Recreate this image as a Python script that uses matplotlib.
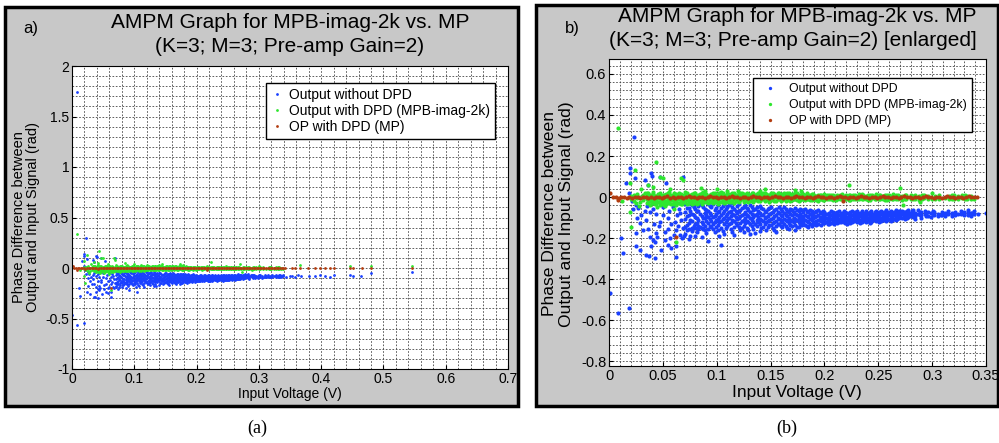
import numpy as np
import matplotlib
matplotlib.use("Agg")
import matplotlib.pyplot as plt
from matplotlib.patches import Rectangle

plt.rcParams['font.family'] = ['Liberation Sans', 'DejaVu Sans']

# ---- data (x = input voltage, y = phase difference) ----
# dense blue cloud, read column by column
blue_cols = [
    (0.071, [-0.035, -0.072, -0.108, -0.146, -0.180]),
    (0.074, [-0.052, -0.090, -0.125, -0.155, -0.205]),
    (0.077, [-0.041, -0.083, -0.117, -0.150, -0.168]),
    (0.080, [-0.060, -0.098, -0.133, -0.152, -0.188]),
    (0.083, [-0.045, -0.070, -0.112, -0.141, -0.158]),
    (0.086, [-0.038, -0.091, -0.120, -0.150, -0.196]),
    (0.089, [-0.057, -0.079, -0.104, -0.139, -0.162]),
    (0.092, [-0.033, -0.068, -0.097, -0.128, -0.155, -0.215]),
    (0.095, [-0.049, -0.086, -0.115, -0.146]),
    (0.098, [-0.062, -0.093, -0.122, -0.170]),
    (0.101, [-0.040, -0.075, -0.109, -0.137, -0.160]),
    (0.104, [-0.055, -0.088, -0.118, -0.150, -0.233]),
    (0.107, [-0.036, -0.070, -0.101, -0.131, -0.178]),
    (0.110, [-0.050, -0.084, -0.112, -0.142]),
    (0.113, [-0.028, -0.066, -0.095, -0.125, -0.158]),
    (0.116, [-0.058, -0.090, -0.119, -0.148, -0.185]),
    (0.119, [-0.044, -0.078, -0.106, -0.135]),
    (0.122, [-0.061, -0.093, -0.126, -0.162]),
    (0.125, [-0.047, -0.081, -0.110, -0.140, -0.170]),
    (0.128, [-0.055, -0.088, -0.117, -0.150]),
    (0.131, [-0.040, -0.072, -0.103, -0.132, -0.182]),
    (0.134, [-0.063, -0.096, -0.122, -0.155]),
    (0.137, [-0.050, -0.083, -0.112, -0.140]),
    (0.140, [-0.045, -0.078, -0.105, -0.130, -0.165]),
    (0.143, [-0.058, -0.090, -0.118, -0.146]),
    (0.146, [-0.066, -0.097, -0.124, -0.160]),
    (0.149, [-0.052, -0.084, -0.110, -0.138]),
    (0.152, [-0.071, -0.100, -0.128, -0.150]),
    (0.155, [-0.060, -0.088, -0.115, -0.143, -0.172]),
    (0.158, [-0.049, -0.079, -0.106, -0.133]),
    (0.161, [-0.068, -0.095, -0.121, -0.148]),
    (0.164, [-0.057, -0.086, -0.113, -0.139]),
    (0.167, [-0.074, -0.102, -0.127, -0.155]),
    (0.170, [-0.062, -0.090, -0.116, -0.142]),
    (0.173, [-0.055, -0.083, -0.108, -0.135, -0.160]),
    (0.176, [-0.070, -0.097, -0.122, -0.147]),
    (0.179, [-0.064, -0.091, -0.117, -0.138]),
    (0.182, [-0.058, -0.087, -0.111, -0.136]),
    (0.185, [-0.073, -0.099, -0.123, -0.145]),
    (0.188, [-0.066, -0.092, -0.114, -0.140]),
    (0.191, [-0.071, -0.096, -0.120, -0.133]),
    (0.194, [-0.062, -0.089, -0.110, -0.131]),
    (0.197, [-0.076, -0.100, -0.118, -0.137]),
    (0.200, [-0.075, -0.095, -0.112, -0.128]),
    (0.203, [-0.082, -0.101, -0.118, -0.132]),
    (0.206, [-0.070, -0.090, -0.108, -0.125]),
    (0.209, [-0.079, -0.098, -0.115, -0.130]),
    (0.212, [-0.073, -0.092, -0.110, -0.127]),
    (0.215, [-0.084, -0.103, -0.120]),
    (0.218, [-0.068, -0.088, -0.106, -0.124]),
    (0.221, [-0.077, -0.096, -0.113, -0.131]),
    (0.224, [-0.072, -0.091, -0.109, -0.126]),
    (0.227, [-0.080, -0.099, -0.116]),
    (0.230, [-0.070, -0.089, -0.107, -0.122]),
    (0.233, [-0.076, -0.094, -0.112, -0.128]),
    (0.236, [-0.083, -0.101, -0.118]),
    (0.239, [-0.068, -0.087, -0.105, -0.121]),
    (0.242, [-0.074, -0.093, -0.110, -0.125]),
    (0.245, [-0.081, -0.098, -0.114]),
    (0.248, [-0.066, -0.085, -0.103, -0.119]),
    (0.251, [-0.072, -0.090, -0.107, -0.122]),
    (0.254, [-0.078, -0.095, -0.112]),
    (0.257, [-0.065, -0.083, -0.100, -0.117]),
    (0.260, [-0.071, -0.088, -0.105]),
    (0.263, [-0.076, -0.093, -0.110]),
    (0.266, [-0.064, -0.081, -0.098, -0.113]),
    (0.269, [-0.070, -0.087, -0.104]),
    (0.272, [-0.066, -0.083, -0.100]),
    (0.275, [-0.074, -0.090, -0.106]),
    (0.278, [-0.063, -0.080, -0.096]),
    (0.281, [-0.070, -0.087]),
    (0.284, [-0.076, -0.093, -0.108]),
    (0.287, [-0.065, -0.082]),
    (0.290, [-0.072, -0.089, -0.101]),
    (0.293, [-0.068, -0.085]),
    (0.296, [-0.075, -0.091]),
    (0.299, [-0.080, -0.098]),
    (0.302, [-0.071, -0.087]),
    (0.305, [-0.083, -0.095]),
    (0.308, [-0.088]),
    (0.312, [-0.076, -0.092]),
    (0.315, [-0.070, -0.085]),
    (0.318, [-0.078, -0.094]),
    (0.321, [-0.073, -0.089]),
    (0.324, [-0.081]),
    (0.327, [-0.069, -0.085]),
    (0.330, [-0.075, -0.090]),
    (0.333, [-0.072, -0.087]),
    (0.336, [-0.080, -0.094]),
    (0.339, [-0.083]),
    # in-between columns
    (0.0725, [-0.055, -0.095, -0.135, -0.160]),
    (0.0755, [-0.030, -0.068, -0.112, -0.190]),
    (0.0785, [-0.050, -0.088, -0.142]),
    (0.0815, [-0.066, -0.104, -0.125, -0.170]),
    (0.0845, [-0.036, -0.081, -0.146]),
    (0.0875, [-0.048, -0.100, -0.130, -0.155]),
    (0.0905, [-0.062, -0.090, -0.118, -0.175]),
    (0.0935, [-0.044, -0.077, -0.106, -0.140]),
    (0.0965, [-0.035, -0.098, -0.132, -0.158]),
    (0.0995, [-0.054, -0.083, -0.114, -0.146]),
    (0.1025, [-0.066, -0.096, -0.124, -0.190]),
    (0.1055, [-0.042, -0.078, -0.108, -0.164]),
    (0.1085, [-0.060, -0.092, -0.122, -0.152]),
    (0.1115, [-0.038, -0.072, -0.100, -0.133]),
    (0.1145, [-0.051, -0.083, -0.111, -0.171]),
    (0.1175, [-0.066, -0.098, -0.128]),
    (0.1205, [-0.036, -0.070, -0.102, -0.144]),
    (0.1235, [-0.053, -0.087, -0.116, -0.152]),
    (0.1265, [-0.040, -0.073, -0.100, -0.129]),
    (0.1295, [-0.063, -0.095, -0.124, -0.160]),
    (0.1325, [-0.048, -0.081, -0.112, -0.142]),
    (0.1355, [-0.056, -0.090, -0.130, -0.175]),
    (0.1385, [-0.067, -0.097, -0.121]),
    (0.1415, [-0.052, -0.086, -0.113, -0.150]),
    (0.1445, [-0.072, -0.104, -0.132]),
    (0.1475, [-0.060, -0.091, -0.116, -0.145]),
    (0.1505, [-0.047, -0.078, -0.106, -0.136]),
    (0.1535, [-0.064, -0.094, -0.121, -0.162]),
    (0.1565, [-0.073, -0.102, -0.130]),
    (0.1595, [-0.058, -0.087, -0.112, -0.141]),
    (0.1625, [-0.050, -0.080, -0.105, -0.130]),
    (0.1655, [-0.066, -0.093, -0.119, -0.150]),
    (0.1685, [-0.056, -0.084, -0.110, -0.137]),
    (0.1715, [-0.071, -0.100, -0.124]),
    (0.1745, [-0.063, -0.090, -0.114, -0.144]),
    (0.1775, [-0.058, -0.085, -0.108, -0.130]),
    (0.1805, [-0.075, -0.102, -0.126]),
    (0.1835, [-0.066, -0.094, -0.118, -0.141]),
    (0.1865, [-0.061, -0.085, -0.109, -0.130]),
    (0.1895, [-0.078, -0.104, -0.125]),
    (0.1925, [-0.068, -0.093, -0.116, -0.138]),
    (0.1955, [-0.073, -0.097, -0.112]),
    (0.1985, [-0.066, -0.088, -0.106, -0.126]),
    (0.2015, [-0.085, -0.104, -0.121]),
    (0.2045, [-0.078, -0.097, -0.114, -0.130]),
    (0.2075, [-0.074, -0.093, -0.110]),
    (0.2105, [-0.086, -0.104, -0.122]),
    (0.2135, [-0.069, -0.088, -0.105, -0.120]),
    (0.2165, [-0.079, -0.098, -0.114]),
    (0.2195, [-0.074, -0.093, -0.111, -0.128]),
    (0.2225, [-0.084, -0.102, -0.118]),
    (0.2255, [-0.068, -0.087, -0.105, -0.121]),
    (0.2285, [-0.075, -0.094, -0.112]),
    (0.2315, [-0.081, -0.099, -0.117]),
    (0.2345, [-0.070, -0.088, -0.106, -0.123]),
    (0.2375, [-0.077, -0.095, -0.112]),
    (0.2405, [-0.083, -0.101, -0.117]),
    (0.2435, [-0.069, -0.087, -0.104, -0.120]),
    (0.2465, [-0.075, -0.092, -0.109]),
    (0.2495, [-0.080, -0.097, -0.114]),
    (0.2525, [-0.067, -0.085, -0.102, -0.118]),
    (0.2555, [-0.073, -0.090, -0.107]),
    (0.2585, [-0.078, -0.095, -0.112]),
    (0.2615, [-0.066, -0.083, -0.100, -0.115]),
    (0.2645, [-0.072, -0.089, -0.105]),
    (0.2675, [-0.077, -0.093, -0.108]),
    (0.2705, [-0.068, -0.085, -0.099]),
    (0.2735, [-0.075, -0.092]),
    (0.2765, [-0.069, -0.086, -0.101]),
    (0.2795, [-0.078, -0.092]),
    (0.2825, [-0.064, -0.082, -0.098]),
    (0.2885, [-0.074, -0.090]),
    (0.2945, [-0.079, -0.095]),
    (0.3005, [-0.066, -0.083]),
    (0.3095, [-0.074, -0.090]),
    (0.3185, [-0.085]),
    (0.3275, [-0.078]),
    (0.3335, [-0.065, -0.081]),
]

# scattered blue points (low-voltage spread and sparse high-voltage tail)
blue_extra = [
    (0.0075, 1.74), (0.0006, -0.47), (0.0084, -0.564), (0.0186, -0.543),
    (0.0114, -0.20), (0.013, -0.275), (0.0186, 0.018), (0.016, 0.07),
    (0.0192, 0.14), (0.0198, 0.115), (0.0229, 0.294), (0.024, 0.094),
    (0.0387, 0.115), (0.040, 0.104), (0.033, 0.083), (0.047, 0.099),
    (0.0687, 0.099), (0.053, 0.067), (0.036, 0.058), (0.0254, -0.039),
    (0.027, -0.055), (0.021, -0.02), (0.035, -0.045), (0.033, -0.068),
    (0.041, -0.06), (0.044, -0.085), (0.050, -0.09), (0.055, -0.10),
    (0.0285, -0.128), (0.0316, -0.161), (0.036, -0.155), (0.042, -0.13),
    (0.0378, -0.193), (0.041, -0.21), (0.044, -0.175), (0.046, -0.14),
    (0.0254, -0.177), (0.0248, -0.239), (0.0285, -0.259), (0.0346, -0.283),
    (0.037, -0.29), (0.0424, -0.299), (0.0486, -0.259), (0.0548, -0.234),
    (0.0619, -0.291), (0.052, -0.17), (0.055, -0.155), (0.060, -0.185),
    (0.066, -0.185), (0.045, -0.195), (0.043, -0.22), (0.039, -0.24),
    (0.047, -0.12), (0.050, -0.05), (0.053, -0.03), (0.048, -0.02),
    (0.030, -0.09), (0.034, -0.11), (0.038, -0.075), (0.022, -0.06),
    (0.026, -0.10), (0.057, -0.20), (0.058, -0.25), (0.062, -0.24),
    (0.056, -0.07), (0.059, -0.05), (0.061, -0.12), (0.063, -0.09),
    (0.064, -0.14), (0.065, -0.06), (0.067, -0.11), (0.068, -0.20),
    (0.070, -0.19), (0.052, -0.21), (0.058, -0.13), (0.062, -0.16),
    (0.066, -0.08), (0.069, -0.15),
    (0.337, -0.08), (0.339, -0.07), (0.343, -0.085), (0.350, -0.08),
    (0.354, -0.075), (0.358, -0.085), (0.363, -0.07), (0.367, -0.08),
    (0.380, -0.075), (0.390, -0.08), (0.398, -0.07), (0.406, -0.075),
    (0.414, -0.085), (0.421, -0.07), (0.446, -0.065), (0.451, -0.075),
    (0.464, -0.08), (0.480, -0.05), (0.546, -0.04),
]

green_cols = [
    (0.020, [-0.010, 0.005]), (0.023, [-0.020, 0.010]),
    (0.026, [-0.005, 0.015]), (0.029, [-0.025, 0.000]),
    (0.032, [-0.015, 0.010]),
    (0.035, [-0.030, -0.012, 0.006, 0.018]),
    (0.038, [-0.038, -0.020, -0.004, 0.012]),
    (0.041, [-0.026, -0.010, 0.015, 0.025]),
    (0.044, [-0.034, -0.016, 0.004]),
    (0.047, [-0.040, -0.022, -0.006, 0.010, 0.022]),
    (0.050, [-0.030, -0.012, 0.008]),
    (0.053, [-0.036, -0.018, 0.002, 0.016]),
    (0.056, [-0.025, -0.008, 0.012, 0.024]),
    (0.059, [-0.032, -0.014, 0.006]),
    (0.062, [-0.038, -0.020, -0.002, 0.014]),
    (0.065, [-0.028, -0.010, 0.010, 0.020]),
    (0.068, [-0.034, -0.016, 0.004]),
    (0.071, [-0.024, -0.008, 0.012, 0.026]),
    (0.074, [-0.030, -0.014, 0.006]),
    (0.077, [-0.036, -0.018, 0.002, 0.016]),
    (0.080, [-0.022, -0.006, 0.010, 0.022]),
    (0.083, [-0.028, -0.012, 0.008]),
    (0.086, [-0.032, -0.016, 0.004, 0.018]),
    (0.089, [-0.024, -0.008, 0.012, 0.028]),
    (0.092, [-0.030, -0.012, 0.006]),
    (0.095, [-0.020, -0.004, 0.014]),
    (0.098, [-0.026, -0.010, 0.008, 0.020]),
    (0.101, [-0.032, -0.014, 0.004]),
    (0.104, [-0.022, -0.006, 0.012, 0.024]),
    (0.107, [-0.028, -0.010, 0.006]),
    (0.110, [-0.018, -0.004, 0.014, 0.030]),
    (0.113, [-0.024, -0.008, 0.010]),
    (0.116, [-0.030, -0.012, 0.004, 0.018]),
    (0.119, [-0.020, -0.006, 0.012]),
    (0.122, [-0.016, 0.008, 0.020]),
    (0.125, [-0.022, -0.004, 0.014]),
    (0.128, [-0.012, 0.006, 0.022]),
    (0.131, [-0.018, -0.002, 0.012]),
    (0.134, [-0.024, 0.004, 0.018]),
    (0.137, [-0.014, 0.008, 0.016]),
    (0.140, [-0.020, -0.002, 0.012]),
    (0.143, [-0.010, 0.006, 0.020]),
    (0.146, [-0.016, 0.002, 0.014]),
    (0.149, [-0.022, -0.004, 0.010]),
    (0.152, [-0.012, 0.008, 0.018]),
    (0.155, [-0.018, 0.000, 0.012]),
    (0.158, [-0.008, 0.006, 0.022]),
    (0.161, [-0.014, 0.004, 0.016]),
    (0.164, [-0.020, -0.002, 0.010]),
    (0.167, [-0.010, 0.008, 0.018]),
    (0.170, [-0.016, 0.002, 0.014]),
    (0.173, [-0.012, 0.006, 0.020]),
    (0.176, [-0.018, -0.002, 0.012]),
    (0.179, [-0.008, 0.010, 0.016]),
    (0.182, [-0.014, 0.004, 0.012]),
    (0.185, [-0.010, 0.008]),
    (0.188, [-0.016, 0.002, 0.014]),
    (0.191, [-0.012, 0.006]),
    (0.194, [-0.018, 0.000, 0.012]),
    (0.197, [-0.008, 0.008]),
    (0.200, [-0.014, 0.004, 0.014]),
    (0.204, [-0.010, 0.010]),
    (0.208, [-0.016, 0.002, 0.012]),
    (0.212, [-0.008, 0.008]),
    (0.216, [-0.012, 0.004, 0.016]),
    (0.220, [-0.010, 0.010]),
    (0.224, [-0.014, 0.002, 0.012]),
    (0.228, [-0.008, 0.008]),
    (0.232, [-0.012, 0.006, 0.014]),
    (0.236, [-0.010, 0.010]),
    (0.240, [-0.014, 0.002, 0.012]),
    (0.244, [-0.006, 0.008]),
    (0.248, [-0.012, 0.004, 0.016]),
    (0.252, [-0.010, 0.010]),
    (0.256, [-0.014, 0.002, 0.012]),
    (0.260, [-0.008, 0.008]),
    (0.264, [-0.012, 0.006, 0.014]),
    (0.268, [-0.010, 0.010]),
    (0.272, [-0.014, 0.004]),
    (0.276, [-0.008, 0.012]),
    (0.280, [-0.012, 0.002, 0.010]),
    (0.284, [-0.010, 0.008]),
    (0.288, [-0.014, 0.004]),
    (0.292, [-0.006, 0.010]),
    (0.296, [-0.012, 0.006]),
    (0.300, [-0.008]),
    (0.306, [-0.010, 0.008]),
    (0.312, [-0.006]),
    (0.316, [-0.012, 0.006]),
    (0.320, [-0.008, 0.010]),
    (0.324, [-0.010, 0.004]),
    (0.328, [-0.006, 0.008]),
    (0.332, [-0.012, 0.006]),
    (0.336, [-0.008, 0.004]),
    (0.339, [-0.010]),
    # in-between columns
    (0.0365, [-0.022, 0.002, 0.020]),
    (0.0395, [-0.030, -0.008, 0.010]),
    (0.0425, [-0.036, -0.018, 0.006]),
    (0.0455, [-0.026, -0.004, 0.016]),
    (0.0485, [-0.032, -0.014, 0.004]),
    (0.0515, [-0.040, -0.020, 0.012]),
    (0.0545, [-0.028, -0.006, 0.020]),
    (0.0575, [-0.036, -0.016, 0.008]),
    (0.0605, [-0.024, -0.008, 0.018]),
    (0.0635, [-0.030, -0.012, 0.006]),
    (0.0665, [-0.036, -0.020, 0.014]),
    (0.0695, [-0.026, -0.006, 0.010]),
    (0.0725, [-0.032, -0.016, 0.018]),
    (0.0755, [-0.022, -0.004, 0.012]),
    (0.0785, [-0.028, -0.010, 0.022]),
    (0.0815, [-0.034, -0.016, 0.006]),
    (0.0845, [-0.020, -0.002, 0.014]),
    (0.0875, [-0.026, -0.010, 0.024]),
    (0.0905, [-0.018, 0.004, 0.016]),
    (0.0935, [-0.024, -0.008, 0.010]),
    (0.0965, [-0.030, -0.014, 0.020]),
    (0.0995, [-0.018, 0.002, 0.012]),
    (0.1025, [-0.024, -0.006, 0.018]),
    (0.1055, [-0.016, 0.008, 0.022]),
    (0.1085, [-0.022, -0.004, 0.010]),
    (0.1115, [-0.026, -0.010, 0.016]),
    (0.1145, [-0.014, 0.006, 0.020]),
    (0.1175, [-0.020, 0.002, 0.010]),
    (0.1205, [-0.024, -0.008, 0.016]),
    (0.1235, [-0.012, 0.004, 0.018]),
    (0.1265, [-0.018, -0.002, 0.010]),
    (0.1295, [-0.022, 0.008, 0.016]),
    (0.1325, [-0.010, 0.004, 0.020]),
    (0.1355, [-0.016, 0.000, 0.012]),
    (0.1385, [-0.020, 0.006, 0.018]),
    (0.1415, [-0.012, 0.002, 0.014]),
    (0.1445, [-0.018, 0.008, 0.022]),
    (0.1475, [-0.010, 0.004, 0.012]),
    (0.1505, [-0.016, 0.000, 0.018]),
    (0.1535, [-0.020, 0.006, 0.014]),
    (0.1565, [-0.012, 0.002, 0.020]),
    (0.1595, [-0.018, 0.008, 0.012]),
    (0.1625, [-0.010, 0.004, 0.018]),
    (0.1655, [-0.014, 0.000, 0.022]),
    (0.1685, [-0.018, 0.006, 0.012]),
    (0.1715, [-0.010, 0.002, 0.016]),
    (0.1745, [-0.014, 0.008, 0.018]),
    (0.1775, [-0.016, 0.004, 0.010]),
    (0.1805, [-0.010, 0.000, 0.014]),
    (0.1835, [-0.012, 0.006, 0.018]),
    (0.1865, [-0.016, 0.002, 0.010]),
    (0.1895, [-0.010, 0.008, 0.014]),
    (0.1925, [-0.014, 0.004]),
    (0.1955, [-0.012, 0.010]),
    (0.1985, [-0.016, 0.002]),
    (0.2025, [-0.012, 0.008]),
    (0.2065, [-0.010, 0.012]),
    (0.2105, [-0.014, 0.006]),
    (0.2145, [-0.010, 0.010]),
    (0.2185, [-0.012, 0.004]),
    (0.2225, [-0.014, 0.008]),
    (0.2265, [-0.010, 0.012]),
    (0.2305, [-0.012, 0.002]),
    (0.2345, [-0.008, 0.014]),
    (0.2385, [-0.012, 0.006]),
    (0.2425, [-0.014, 0.010]),
    (0.2465, [-0.010, 0.004]),
    (0.2505, [-0.012, 0.012]),
    (0.2545, [-0.008, 0.006]),
    (0.2585, [-0.014, 0.010]),
    (0.2625, [-0.010, 0.004]),
    (0.2665, [-0.012, 0.012]),
    (0.2745, [-0.010, 0.008]),
    (0.2825, [-0.012, 0.006]),
    (0.2905, [-0.010, 0.010]),
    (0.3025, [-0.012, 0.006]),
    (0.3185, [-0.010, 0.008]),
    (0.3305, [-0.008, 0.010]),
]

green_extra = [
    (0.008, 0.335), (0.044, 0.172), (0.024, 0.13), (0.0687, 0.083),
    (0.067, 0.095), (0.0195, 0.07), (0.050, 0.095), (0.047, 0.10),
    (0.041, 0.05), (0.036, 0.06), (0.030, 0.04), (0.0207, -0.145),
    (0.062, -0.218), (0.0195, -0.075), (0.028, -0.045), (0.045, -0.05),
    (0.0125, -0.02), (0.025, -0.03), (0.0335, 0.02), (0.223, 0.058),
    (0.270, 0.042), (0.2996, 0.018), (0.289, -0.023), (0.273, -0.039),
    (0.145, 0.04), (0.140, 0.03), (0.173, 0.035), (0.178, 0.03),
    (0.120, 0.03), (0.085, 0.045), (0.100, 0.04), (0.057, 0.04),
    (0.060, -0.06), (0.052, -0.045),
    (0.366, 0.03), (0.446, 0.02), (0.480, 0.02), (0.546, 0.02),
]

brown_pts = [
    (0.001, 0.020), (0.008, -0.015), (0.062, -0.195), (0.2175, -0.018),
    (0.004, -0.002), (0.0065, 0.001), (0.009, -0.004), (0.0115, -0.001),
    (0.014, 0.002), (0.0165, -0.003), (0.019, 0.000), (0.0215, -0.005),
    (0.024, -0.002), (0.0265, 0.001), (0.029, -0.004), (0.0315, -0.001),
    (0.034, 0.002), (0.0365, -0.003), (0.039, 0.000), (0.0415, -0.005),
    (0.044, -0.002), (0.0465, 0.001), (0.049, -0.004), (0.0515, -0.001),
    (0.054, 0.003), (0.0565, -0.003), (0.059, 0.000), (0.0615, -0.004),
    (0.064, -0.001), (0.0665, 0.002), (0.069, -0.003), (0.0715, 0.000),
    (0.074, 0.003), (0.0765, -0.002), (0.079, 0.001), (0.0815, -0.004),
    (0.084, -0.001), (0.0865, 0.002), (0.089, -0.003), (0.0915, 0.000),
    (0.094, 0.003), (0.0965, -0.002), (0.099, 0.001), (0.1015, -0.004),
    (0.104, -0.001), (0.1065, 0.002), (0.109, -0.003), (0.1115, 0.000),
    (0.114, 0.003), (0.1165, -0.002), (0.119, 0.001), (0.1215, -0.004),
    (0.124, -0.001), (0.1265, 0.002), (0.129, -0.003), (0.1315, 0.000),
    (0.134, 0.003), (0.1365, -0.002), (0.139, 0.001), (0.1415, -0.004),
    (0.144, -0.001), (0.1465, 0.002), (0.149, -0.003), (0.1515, 0.000),
    (0.154, 0.003), (0.1565, -0.002), (0.159, 0.001), (0.1615, -0.004),
    (0.164, -0.001), (0.1665, 0.002), (0.169, -0.003), (0.1715, 0.000),
    (0.174, 0.003), (0.1765, -0.002), (0.179, 0.001), (0.1815, -0.004),
    (0.184, -0.001), (0.1865, 0.002), (0.189, -0.003), (0.1915, 0.000),
    (0.194, 0.003), (0.1965, -0.002), (0.199, 0.001), (0.2015, -0.004),
    (0.204, -0.001), (0.2065, 0.002), (0.209, -0.003), (0.2115, 0.000),
    (0.214, 0.003), (0.2165, -0.002), (0.219, 0.001), (0.2215, -0.004),
    (0.224, -0.001), (0.2265, 0.002), (0.229, -0.003), (0.2315, 0.000),
    (0.234, 0.003), (0.2365, -0.002), (0.239, 0.001), (0.2415, -0.004),
    (0.244, -0.001), (0.2465, 0.002), (0.249, -0.003), (0.2515, 0.000),
    (0.254, 0.003), (0.2565, -0.002), (0.259, 0.001), (0.2615, -0.004),
    (0.264, -0.001), (0.2665, 0.002), (0.269, -0.003), (0.2715, 0.000),
    (0.274, 0.003), (0.2765, -0.002), (0.279, 0.001), (0.2815, -0.004),
    (0.284, -0.001), (0.2865, 0.002), (0.289, -0.003), (0.2915, 0.000),
    (0.294, 0.003), (0.2965, -0.002), (0.299, 0.001), (0.3015, -0.004),
    (0.304, -0.001), (0.3065, 0.002), (0.309, -0.003), (0.3115, 0.000),
    (0.314, 0.003), (0.3165, -0.002), (0.319, 0.001), (0.3215, -0.004),
    (0.324, -0.001), (0.3265, 0.002), (0.329, -0.003), (0.3315, 0.000),
    (0.334, 0.003), (0.3365, -0.002), (0.339, 0.001),
    (0.342, 0.0), (0.353, 0.0), (0.358, 0.0), (0.366, 0.0), (0.379, 0.0),
    (0.390, 0.0), (0.398, 0.0), (0.406, 0.0), (0.414, 0.0), (0.421, 0.0),
    (0.446, 0.0), (0.451, 0.0), (0.466, 0.0), (0.480, 0.0), (0.546, 0.0),
]

labels = ['Output without DPD', 'Output with DPD (MPB-imag-2k)', 'OP with DPD (MP)']
colors = ['#1a40ff', '#2ee62e', '#b23c10']


def unpack(cols, extra):
    xs, ys = [], []
    for x, yl in cols:
        xs += [x] * len(yl)
        ys += yl
    for x, y in extra:
        xs.append(x)
        ys.append(y)
    return xs, ys


blue_x, blue_y = unpack(blue_cols, blue_extra)
green_x, green_y = unpack(green_cols, green_extra)
brown_x, brown_y = unpack([], brown_pts)

W, H = 999, 443
fig = plt.figure(figsize=(W / 100, H / 100), dpi=100)
fig.patch.set_facecolor('white')


def fx(px):
    return px / W


def fy(py):
    return 1 - py / H


# grey panel frames
for x0, y0, x1, y1 in [(5, 7, 518, 406), (536, 5, 998, 406)]:
    fig.add_artist(Rectangle((fx(x0), fy(y1)), fx(x1) - fx(x0), fy(y0) - fy(y1),
                             transform=fig.transFigure, facecolor='#c8c8c8',
                             edgecolor='black', linewidth=2.5, zorder=0))


def draw(ax, ms):
    ax.plot(blue_x, blue_y, '.', color=colors[0], ms=ms, mew=0, label=labels[0])
    ax.plot(green_x, green_y, '.', color=colors[1], ms=ms, mew=0, label=labels[1])
    ax.plot(brown_x, brown_y, '.', color=colors[2], ms=ms, mew=0, label=labels[2])


def style(ax, xlim, ylim, xt, xtl, yt, ytl, xminor, yminor, fs):
    ax.set_xlim(xlim)
    ax.set_ylim(ylim)
    ax.set_xticks(xt)
    ax.set_xticklabels(xtl)
    ax.set_yticks(yt)
    ax.set_yticklabels(ytl)
    ax.set_xticks(xminor, minor=True)
    ax.set_yticks(yminor, minor=True)
    ax.grid(which='both', color='#444444', linestyle=(0, (2, 2)), linewidth=0.6)
    ax.set_axisbelow(True)
    ax.tick_params(which='major', direction='in', length=3, labelsize=fs, pad=2)
    ax.tick_params(which='minor', length=0)
    for s in ax.spines.values():
        s.set_linewidth(0.8)


# ---- panel a ----
ax1 = fig.add_axes([fx(72), fy(369), fx(508) - fx(72), fy(66) - fy(369)])
draw(ax1, 4)
style(ax1, (0, 0.7), (-1, 2),
      np.arange(0, 0.71, 0.1), ['0', '0.1', '0.2', '0.3', '0.4', '0.5', '0.6', '0.7'],
      np.arange(-1, 2.01, 0.5), ['-1', '-0.5', '0', '0.5', '1', '1.5', '2'],
      np.arange(0, 0.701, 0.02), np.arange(-1, 2.01, 0.1), 10)
ax1.legend(loc='upper right', bbox_to_anchor=(0.97, 0.944), borderaxespad=0,
           fontsize=10, numpoints=1, fancybox=False, edgecolor='black', framealpha=1,
           borderpad=0.35, handlelength=0.9, handletextpad=0.4, labelspacing=0.15,
           markerscale=1.0)

fig.text(fx(290), fy(23), 'AMPM Graph for MPB-imag-2k vs. MP', ha='center', va='center', fontsize=15)
fig.text(fx(290), fy(46), '(K=3; M=3; Pre-amp Gain=2)', ha='center', va='center', fontsize=15)
fig.text(fx(31), fy(29), 'a)', ha='center', va='center', fontsize=12)
fig.text(fx(290), fy(394), 'Input Voltage (V)', ha='center', va='center', fontsize=10)
fig.text(fx(26), fy(217), 'Phase Difference between\nOutput and Input Signal (rad)',
         ha='center', va='center', rotation=90, fontsize=10.5, linespacing=1.0)

# ---- panel b (enlarged) ----
ax2 = fig.add_axes([fx(609), fy(366), fx(986) - fx(609), fy(59) - fy(366)])
draw(ax2, 6)
style(ax2, (0, 0.35), (-0.824, 0.673),
      np.arange(0, 0.351, 0.05), ['0', '0.05', '0.1', '0.15', '0.2', '0.25', '0.3', '0.35'],
      np.arange(-0.8, 0.61, 0.2), ['-0.8', '-0.6', '-0.4', '-0.2', '0', '0.2', '0.4', '0.6'],
      np.arange(0, 0.3501, 0.01), np.arange(-0.8, 0.67, 0.04), 10.5)
ax2.legend(loc='upper right', bbox_to_anchor=(0.963, 0.938), borderaxespad=0,
           fontsize=8.8, numpoints=1, fancybox=False, edgecolor='black', framealpha=1,
           borderpad=0.4, handlelength=2.1, handletextpad=0.5, labelspacing=0.35,
           markerscale=0.8)

fig.text(fx(797), fy(16), 'AMPM Graph for MPB-imag-2k vs. MP', ha='center', va='center', fontsize=15)
fig.text(fx(793), fy(41), '(K=3; M=3; Pre-amp Gain=2) [enlarged]', ha='center', va='center', fontsize=15)
fig.text(fx(572), fy(29), 'b)', ha='center', va='center', fontsize=12)
fig.text(fx(797), fy(392), 'Input Voltage (V)', ha='center', va='center', fontsize=12.5)
fig.text(fx(558), fy(214), 'Phase Difference between\nOutput and Input Signal (rad)',
         ha='center', va='center', rotation=90, fontsize=12.6, linespacing=1.1)

# captions
fig.text(fx(257), fy(428), '(a)', ha='center', va='center', fontsize=13, family='Liberation Serif')
fig.text(fx(787), fy(428), '(b)', ha='center', va='center', fontsize=13, family='Liberation Serif')

fig.savefig('out.png', dpi=100)
